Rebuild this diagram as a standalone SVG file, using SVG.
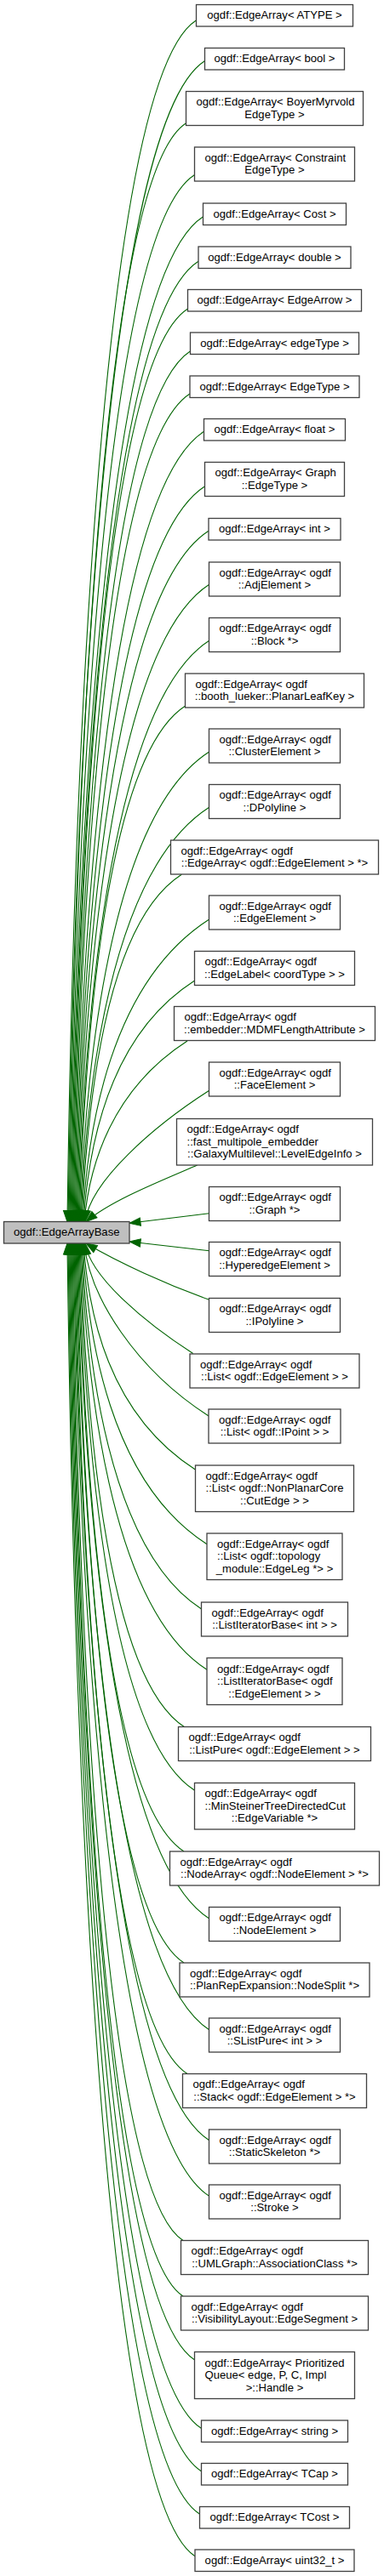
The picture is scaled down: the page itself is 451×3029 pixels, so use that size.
<svg xmlns="http://www.w3.org/2000/svg" width="451" height="3029" viewBox="0 0 451 3029">
<style>
.node rect{fill:#ffffff;stroke:#404040;stroke-width:1.3}
.base rect{fill:#bfbfbf}
text{font-family:"Liberation Sans",Arial,Helvetica,sans-serif;font-size:13.1px;fill:#000}
.c{text-anchor:middle}
.edges path{fill:none;stroke:#006400;stroke-width:1.1;marker-end:url(#ah)}
</style>
<defs>
<marker id="ah" markerUnits="userSpaceOnUse" markerWidth="16" markerHeight="12" refX="13" refY="5" orient="auto" overflow="visible">
<path d="M0,0.3 L13,5 L0,9.7 Z" fill="#006400" stroke="#006400" stroke-width="1"/>
</marker>
</defs>
<rect width="451" height="3029" fill="#ffffff"/>
<g class="edges">
<path d="M230.3,24 C112.1,100 85,998.6 79,1436.5"/>
<path d="M240.3,71.7 C115.1,152.2 86,1013.4 80,1436.5"/>
<path d="M218.3,145 C111,214 87,1036.1 81,1436.5"/>
<path d="M228.3,205.7 C114,279.2 88,1055 82,1436.5"/>
<path d="M238.3,255 C117,333 89,1070.2 83,1436.5"/>
<path d="M233,307.3 C116.6,382.1 90,1086.4 84,1436.5"/>
<path d="M220.3,363.3 C114.6,431.2 91,1103.8 85,1436.5"/>
<path d="M223.7,412.7 C116.1,481.9 92,1119.1 86,1436.5"/>
<path d="M223,463 C116.7,531.3 93,1134.7 87,1436.5"/>
<path d="M239.7,507.3 C121.2,583.5 94,1148.4 88,1436.5"/>
<path d="M240.7,571.7 C122.2,647.9 95,1168.4 89,1436.5"/>
<path d="M245,624.3 C123.9,702.2 96,1184.7 90,1436.5"/>
<path d="M245.7,687.3 C124.8,765 97,1204.2 91,1436.5"/>
<path d="M245.7,753.3 C125.7,830.5 98,1224.7 92,1436.5"/>
<path d="M217.7,830 C120.3,892.6 99,1248.5 93,1436.5"/>
<path d="M245.7,884 C127.2,960.2 100,1265.2 94,1436.5"/>
<path d="M245.7,949.3 C127.9,1025 101,1285.5 95,1436.5"/>
<path d="M213.3,1028.3 C121.7,1087.2 102,1310 96,1436.5"/>
<path d="M245.7,1081 C129.5,1155.7 103,1326.3 97,1436.5"/>
<path d="M228.3,1153.3 C126.5,1218.7 104,1348.7 98,1436.5"/>
<path d="M220,1224 C130.7,1281.4 105,1370.6 99,1436.5"/>
<path d="M245.7,1282.3 C180.9,1323.9 106,1388.7 100,1436.5"/>
<path d="M231.7,1370 C185,1390 130,1412 101,1436.5"/>
<path d="M245.7,1426.7 L152,1438.3"/>
<path d="M245.7,1470.7 L152,1460"/>
<path d="M245.7,1528.3 C195,1510 140,1485 101,1462"/>
<path d="M226.7,1591.5 C172.3,1556.5 106,1502.1 100,1462"/>
<path d="M245,1665 C159.7,1610.2 105,1524.9 99,1462"/>
<path d="M229.7,1728.3 C126.8,1662.1 104,1544.6 98,1462"/>
<path d="M243,1815.7 C128.9,1742.4 103,1571.6 97,1462"/>
<path d="M236.3,1891.7 C126.7,1821.2 102,1595.2 96,1462"/>
<path d="M243,1963.3 C127.4,1889 101,1617.4 95,1462"/>
<path d="M216.7,2030.7 C120.9,1969.1 100,1638.3 94,1462"/>
<path d="M228.3,2105 C122.6,2037.1 99,1661.3 93,1462"/>
<path d="M216,2177 C119.1,2114.7 98,1683.7 92,1462"/>
<path d="M245.7,2256 C124.8,2178.3 97,1708.1 91,1462"/>
<path d="M216,2308 C117.6,2244.7 96,1724.3 90,1462"/>
<path d="M245.7,2386.7 C123.3,2308 95,1748.7 89,1462"/>
<path d="M220,2438.5 C116.8,2372.2 94,1764.7 88,1462"/>
<path d="M245.7,2516.7 C121.7,2437 93,1789 87,1462"/>
<path d="M245.7,2582.3 C121,2502.1 92,1809.3 86,1462"/>
<path d="M215,2634.5 C113.4,2569.2 91,1825.5 85,1462"/>
<path d="M215,2700 C112.7,2634.2 90,1845.8 84,1462"/>
<path d="M228.7,2775 C114.9,2701.8 89,1869 83,1462"/>
<path d="M236.3,2855.3 C115.8,2777.8 88,1893.9 82,1462"/>
<path d="M236.3,2905.7 C115,2827.7 87,1909.5 81,1462"/>
<path d="M234.3,2956 C113.8,2878.5 86,1925.1 80,1462"/>
<path d="M229,3005.7 C111.8,2930.4 85,1940.5 79,1462"/>
</g>
<g id="n1" class="node"><rect x="230.5" y="5.5" width="184" height="25.5"/><text class="c" x="322.5" y="22.25">ogdf::EdgeArray&lt; ATYPE &gt;</text></g>
<g id="n2" class="node"><rect x="240.5" y="56.5" width="164" height="25.5"/><text class="c" x="322.5" y="73.25">ogdf::EdgeArray&lt; bool &gt;</text></g>
<g id="n3" class="node"><rect x="218.5" y="107.5" width="208" height="40"/><text x="230.5" y="124.25">ogdf::EdgeArray&lt; BoyerMyrvold</text><text class="c" x="322.5" y="138.75">EdgeType &gt;</text></g>
<g id="n4" class="node"><rect x="228.5" y="173" width="188" height="40"/><text x="240.5" y="189.75">ogdf::EdgeArray&lt; Constraint</text><text class="c" x="322.5" y="204.25">EdgeType &gt;</text></g>
<g id="n5" class="node"><rect x="238.5" y="239" width="168" height="25.5"/><text class="c" x="322.5" y="255.75">ogdf::EdgeArray&lt; Cost &gt;</text></g>
<g id="n6" class="node"><rect x="233" y="290" width="179" height="25.5"/><text class="c" x="322.5" y="306.75">ogdf::EdgeArray&lt; double &gt;</text></g>
<g id="n7" class="node"><rect x="220.5" y="340.5" width="204" height="25.5"/><text class="c" x="322.5" y="357.25">ogdf::EdgeArray&lt; EdgeArrow &gt;</text></g>
<g id="n8" class="node"><rect x="223.5" y="391" width="198" height="25.5"/><text class="c" x="322.5" y="407.75">ogdf::EdgeArray&lt; edgeType &gt;</text></g>
<g id="n9" class="node"><rect x="223" y="442" width="199" height="25.5"/><text class="c" x="322.5" y="458.75">ogdf::EdgeArray&lt; EdgeType &gt;</text></g>
<g id="n10" class="node"><rect x="239.5" y="492.5" width="166" height="25.5"/><text class="c" x="322.5" y="509.25">ogdf::EdgeArray&lt; float &gt;</text></g>
<g id="n11" class="node"><rect x="240.5" y="543.5" width="164" height="40"/><text x="252.5" y="560.25">ogdf::EdgeArray&lt; Graph</text><text class="c" x="322.5" y="574.75">::EdgeType &gt;</text></g>
<g id="n12" class="node"><rect x="245" y="609.5" width="155" height="25.5"/><text class="c" x="322.5" y="626.25">ogdf::EdgeArray&lt; int &gt;</text></g>
<g id="n13" class="node"><rect x="245.5" y="661" width="154" height="40"/><text x="257.5" y="677.75">ogdf::EdgeArray&lt; ogdf</text><text class="c" x="322.5" y="692.25">::AdjElement &gt;</text></g>
<g id="n14" class="node"><rect x="245.5" y="726.5" width="154" height="40"/><text x="257.5" y="743.25">ogdf::EdgeArray&lt; ogdf</text><text class="c" x="322.5" y="757.75">::Block *&gt;</text></g>
<g id="n15" class="node"><rect x="217.5" y="792" width="210" height="40"/><text x="229.5" y="808.75">ogdf::EdgeArray&lt; ogdf</text><text class="c" x="322.5" y="823.25">::booth_lueker::PlanarLeafKey &gt;</text></g>
<g id="n16" class="node"><rect x="245.5" y="857" width="154" height="40"/><text x="257.5" y="873.75">ogdf::EdgeArray&lt; ogdf</text><text class="c" x="322.5" y="888.25">::ClusterElement &gt;</text></g>
<g id="n17" class="node"><rect x="245.5" y="922.5" width="154" height="40"/><text x="257.5" y="939.25">ogdf::EdgeArray&lt; ogdf</text><text class="c" x="322.5" y="953.75">::DPolyline &gt;</text></g>
<g id="n18" class="node"><rect x="200.5" y="988" width="244" height="40"/><text x="212.5" y="1004.75">ogdf::EdgeArray&lt; ogdf</text><text class="c" x="322.5" y="1019.25">::EdgeArray&lt; ogdf::EdgeElement &gt; *&gt;</text></g>
<g id="n19" class="node"><rect x="245.5" y="1053" width="154" height="40"/><text x="257.5" y="1069.75">ogdf::EdgeArray&lt; ogdf</text><text class="c" x="322.5" y="1084.25">::EdgeElement &gt;</text></g>
<g id="n20" class="node"><rect x="228.5" y="1118.5" width="188" height="40"/><text x="240.5" y="1135.25">ogdf::EdgeArray&lt; ogdf</text><text class="c" x="322.5" y="1149.75">::EdgeLabel&lt; coordType &gt; &gt;</text></g>
<g id="n21" class="node"><rect x="204.5" y="1183.5" width="236" height="40"/><text x="216.5" y="1200.25">ogdf::EdgeArray&lt; ogdf</text><text class="c" x="322.5" y="1214.75">::embedder::MDMFLengthAttribute &gt;</text></g>
<g id="n22" class="node"><rect x="245.5" y="1249" width="154" height="40"/><text x="257.5" y="1265.75">ogdf::EdgeArray&lt; ogdf</text><text class="c" x="322.5" y="1280.25">::FaceElement &gt;</text></g>
<g id="n23" class="node"><rect x="207.5" y="1315.5" width="230" height="54.5"/><text x="219.5" y="1332.25">ogdf::EdgeArray&lt; ogdf</text><text x="219.5" y="1346.75">::fast_multipole_embedder</text><text class="c" x="322.5" y="1361.25">::GalaxyMultilevel::LevelEdgeInfo &gt;</text></g>
<g id="n24" class="node"><rect x="245.5" y="1395.5" width="154" height="40"/><text x="257.5" y="1412.25">ogdf::EdgeArray&lt; ogdf</text><text class="c" x="322.5" y="1426.75">::Graph *&gt;</text></g>
<g id="base" class="node base"><rect x="4.5" y="1436.5" width="147.5" height="25.5"/><text class="c" x="78.25" y="1453.25">ogdf::EdgeArrayBase</text></g>
<g id="n25" class="node"><rect x="245.5" y="1460.5" width="154" height="40"/><text x="257.5" y="1477.25">ogdf::EdgeArray&lt; ogdf</text><text class="c" x="322.5" y="1491.75">::HyperedgeElement &gt;</text></g>
<g id="n26" class="node"><rect x="245.5" y="1526.5" width="154" height="40"/><text x="257.5" y="1543.25">ogdf::EdgeArray&lt; ogdf</text><text class="c" x="322.5" y="1557.75">::IPolyline &gt;</text></g>
<g id="n27" class="node"><rect x="223" y="1592" width="199" height="40"/><text x="235" y="1608.75">ogdf::EdgeArray&lt; ogdf</text><text class="c" x="322.5" y="1623.25">::List&lt; ogdf::EdgeElement &gt; &gt;</text></g>
<g id="n28" class="node"><rect x="245" y="1657" width="155" height="40"/><text x="257" y="1673.75">ogdf::EdgeArray&lt; ogdf</text><text class="c" x="322.5" y="1688.25">::List&lt; ogdf::IPoint &gt; &gt;</text></g>
<g id="n29" class="node"><rect x="229.5" y="1723" width="186" height="54.5"/><text x="241.5" y="1739.75">ogdf::EdgeArray&lt; ogdf</text><text x="241.5" y="1754.25">::List&lt; ogdf::NonPlanarCore</text><text class="c" x="322.5" y="1768.75">::CutEdge &gt; &gt;</text></g>
<g id="n30" class="node"><rect x="243" y="1803" width="159" height="54.5"/><text x="255" y="1819.75">ogdf::EdgeArray&lt; ogdf</text><text x="255" y="1834.25">::List&lt; ogdf::topology</text><text class="c" x="322.5" y="1848.75">_module::EdgeLeg *&gt; &gt;</text></g>
<g id="n31" class="node"><rect x="236.5" y="1884" width="172" height="40"/><text x="248.5" y="1900.75">ogdf::EdgeArray&lt; ogdf</text><text class="c" x="322.5" y="1915.25">::ListIteratorBase&lt; int &gt; &gt;</text></g>
<g id="n32" class="node"><rect x="243" y="1949.5" width="159" height="55"/><text x="255" y="1966.5">ogdf::EdgeArray&lt; ogdf</text><text x="255" y="1981">::ListIteratorBase&lt; ogdf</text><text class="c" x="322.5" y="1995.5">::EdgeElement &gt; &gt;</text></g>
<g id="n33" class="node"><rect x="209.5" y="2030.5" width="226" height="40"/><text x="221.5" y="2047.25">ogdf::EdgeArray&lt; ogdf</text><text class="c" x="322.5" y="2061.75">::ListPure&lt; ogdf::EdgeElement &gt; &gt;</text></g>
<g id="n34" class="node"><rect x="228.5" y="2096.5" width="188" height="54.5"/><text x="240.5" y="2113.25">ogdf::EdgeArray&lt; ogdf</text><text x="240.5" y="2127.75">::MinSteinerTreeDirectedCut</text><text class="c" x="322.5" y="2142.25">::EdgeVariable *&gt;</text></g>
<g id="n35" class="node"><rect x="199.5" y="2177" width="246" height="40"/><text x="211.5" y="2193.75">ogdf::EdgeArray&lt; ogdf</text><text class="c" x="322.5" y="2208.25">::NodeArray&lt; ogdf::NodeElement &gt; *&gt;</text></g>
<g id="n36" class="node"><rect x="245.5" y="2242.5" width="154" height="40"/><text x="257.5" y="2259.25">ogdf::EdgeArray&lt; ogdf</text><text class="c" x="322.5" y="2273.75">::NodeElement &gt;</text></g>
<g id="n37" class="node"><rect x="211" y="2308" width="223" height="40"/><text x="223" y="2324.75">ogdf::EdgeArray&lt; ogdf</text><text class="c" x="322.5" y="2339.25">::PlanRepExpansion::NodeSplit *&gt;</text></g>
<g id="n38" class="node"><rect x="245.5" y="2373" width="154" height="40"/><text x="257.5" y="2389.75">ogdf::EdgeArray&lt; ogdf</text><text class="c" x="322.5" y="2404.25">::SListPure&lt; int &gt; &gt;</text></g>
<g id="n39" class="node"><rect x="214.5" y="2438.5" width="216" height="40"/><text x="226.5" y="2455.25">ogdf::EdgeArray&lt; ogdf</text><text class="c" x="322.5" y="2469.75">::Stack&lt; ogdf::EdgeElement &gt; *&gt;</text></g>
<g id="n40" class="node"><rect x="245.5" y="2504" width="154" height="40"/><text x="257.5" y="2520.75">ogdf::EdgeArray&lt; ogdf</text><text class="c" x="322.5" y="2535.25">::StaticSkeleton *&gt;</text></g>
<g id="n41" class="node"><rect x="245.5" y="2569" width="154" height="40"/><text x="257.5" y="2585.75">ogdf::EdgeArray&lt; ogdf</text><text class="c" x="322.5" y="2600.25">::Stroke &gt;</text></g>
<g id="n42" class="node"><rect x="212.5" y="2634.5" width="220" height="40"/><text x="224.5" y="2651.25">ogdf::EdgeArray&lt; ogdf</text><text class="c" x="322.5" y="2665.75">::UMLGraph::AssociationClass *&gt;</text></g>
<g id="n43" class="node"><rect x="212.5" y="2700" width="220" height="40"/><text x="224.5" y="2716.75">ogdf::EdgeArray&lt; ogdf</text><text class="c" x="322.5" y="2731.25">::VisibilityLayout::EdgeSegment &gt;</text></g>
<g id="n44" class="node"><rect x="228.5" y="2765.5" width="188" height="55"/><text x="240.5" y="2782.5">ogdf::EdgeArray&lt; Prioritized</text><text x="240.5" y="2797">Queue&lt; edge, P, C, Impl</text><text class="c" x="322.5" y="2811.5">&gt;::Handle &gt;</text></g>
<g id="n45" class="node"><rect x="236.5" y="2846" width="172" height="25.5"/><text class="c" x="322.5" y="2862.75">ogdf::EdgeArray&lt; string &gt;</text></g>
<g id="n46" class="node"><rect x="236.5" y="2896.5" width="172" height="25.5"/><text class="c" x="322.5" y="2913.25">ogdf::EdgeArray&lt; TCap &gt;</text></g>
<g id="n47" class="node"><rect x="234.5" y="2947.5" width="176" height="25.5"/><text class="c" x="322.5" y="2964.25">ogdf::EdgeArray&lt; TCost &gt;</text></g>
<g id="n48" class="node"><rect x="229" y="2998" width="187" height="25.5"/><text class="c" x="322.5" y="3014.75">ogdf::EdgeArray&lt; uint32_t &gt;</text></g>
</svg>
